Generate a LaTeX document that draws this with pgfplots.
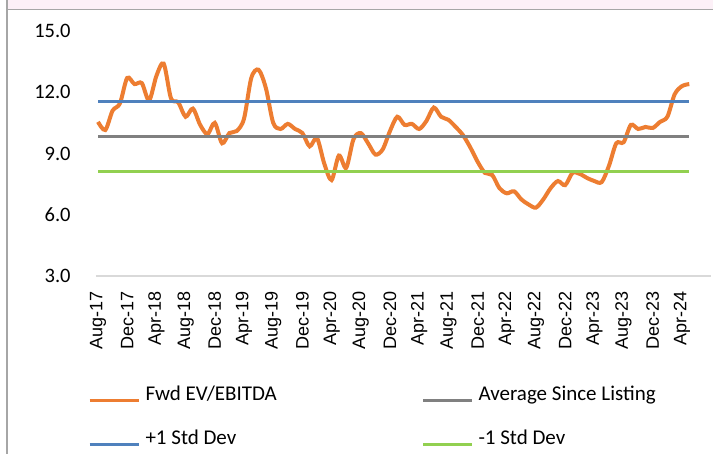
\documentclass[border=0pt]{standalone}
\usepackage{pgfplots}
\pgfplotsset{compat=1.18}
\usepackage{fontspec}
\setmainfont{Carlito}
\newfontfamily\xfont{Liberation Sans}
\definecolor{cOrange}{HTML}{ED7D31}
\definecolor{cBlue}{HTML}{4F81BD}
\definecolor{cGrey}{HTML}{808080}
\definecolor{cGreen}{HTML}{92D050}
\definecolor{cBase}{HTML}{D9D9D9}
\definecolor{cFrame}{HTML}{A6A6A6}
\definecolor{cPink}{HTML}{FCF0F7}
\begin{document}
\begin{tikzpicture}
\useasboundingbox (0,0) rectangle (713pt,454pt);
\fill[white] (0,0) rectangle (713pt,454pt);
\fill[cPink] (7pt,444.5pt) rectangle (713pt,454pt);
\draw[cFrame,line width=1.5pt] (7pt,0pt) -- (7pt,454pt);
\draw[cFrame,line width=1.5pt] (7pt,444.5pt) -- (713pt,444.5pt);
\begin{axis}[
  at={(98pt,178pt)}, anchor=origin,
  scale only axis, width=615pt, height=245pt,
  xmin=-0.3, xmax=83.95, ymin=3, ymax=15,
  axis x line*=bottom, axis y line*=left,
  x axis line style={draw=cBase, line width=2pt, -},
  y axis line style={draw=none},
  major tick length=0pt,
  xtick={0,4,...,80},
  xticklabels={Aug-17,Dec-17,Apr-18,Aug-18,Dec-18,Apr-19,Aug-19,Dec-19,Apr-20,Aug-20,Dec-20,Apr-21,Aug-21,Dec-21,Apr-22,Aug-22,Dec-22,Apr-23,Aug-23,Dec-23,Apr-24},
  xticklabel style={rotate=90, anchor=east, inner sep=0pt, font=\xfont\fontsize{18}{18}\selectfont},
  xticklabel shift=15pt,
  ytick={3,6,...,15},
  yticklabel style={anchor=east, inner sep=0pt, font=\fontsize{20.5}{20.5}\selectfont,
    /pgf/number format/.cd, fixed, fixed zerofill, precision=1, assume math mode=true},
  yticklabel shift=25pt,
  legend columns=2,
  legend style={draw=none, fill=none, at={(axis description cs:-0.013,-0.448)}, anchor=north west,
    inner sep=0pt, row sep=27pt,
    nodes={inner sep=0pt, anchor=base west, font=\fontsize{21}{21}\selectfont}},
  legend image code/.code={\draw[#1, line width=3pt] (0pt,0pt) -- (49pt,0pt); \path (54pt,0pt);},
  clip=false,
]
\addplot[cOrange, line width=4pt, smooth, tension=0.5] coordinates {
(0,10.55) (1,10.15) (2,11.1) (3,11.45) (4,12.7) (5,12.4) (6,12.45) (7,11.6) (8,12.8) (9,13.4)
(10,11.7) (11,11.5) (12,10.8) (13,11.2) (14,10.4) (15,9.95) (16,10.5) (17,9.5) (18,10.0) (19,10.1)
(20,10.7) (21,12.7) (22,13.1) (23,12.2) (24,10.5) (25,10.2) (26,10.45) (27,10.2) (28,10.0) (29,9.35)
(30,9.75) (31,8.5) (32,7.7) (33,8.9) (34,8.3) (35,9.7) (36,10.0) (37,9.5) (38,8.95) (39,9.2)
(40,10.1) (41,10.8) (42,10.4) (43,10.45) (44,10.2) (45,10.6) (46,11.25) (47,10.8) (48,10.65) (49,10.3)
(50,9.9) (51,9.3) (52,8.6) (53,8.05) (54,7.95) (55,7.3) (56,7.05) (57,7.15) (58,6.75) (59,6.5)
(60,6.35) (61,6.75) (62,7.3) (63,7.65) (64,7.45) (65,8.05) (66,8.0) (67,7.8) (68,7.65) (69,7.6)
(70,8.4) (71,9.5) (72,9.55) (73,10.4) (74,10.2) (75,10.3) (76,10.25) (77,10.55) (78,10.8) (79,11.9)
(80,12.3) (81,12.4)
};
\addlegendentry{\makebox[276pt][l]{Fwd EV/EBITDA}}
\addplot[cGrey, line width=3pt] coordinates {(0,9.84) (81,9.84)};
\addlegendentry{Average Since Listing}
\addplot[cBlue, line width=3pt] coordinates {(0,11.54) (81,11.54)};
\addlegendentry{\makebox[276pt][l]{+1 Std Dev}}
\addplot[cGreen, line width=3pt] coordinates {(0,8.14) (81,8.14)};
\addlegendentry{-1 Std Dev}
\end{axis}
\end{tikzpicture}
\end{document}
